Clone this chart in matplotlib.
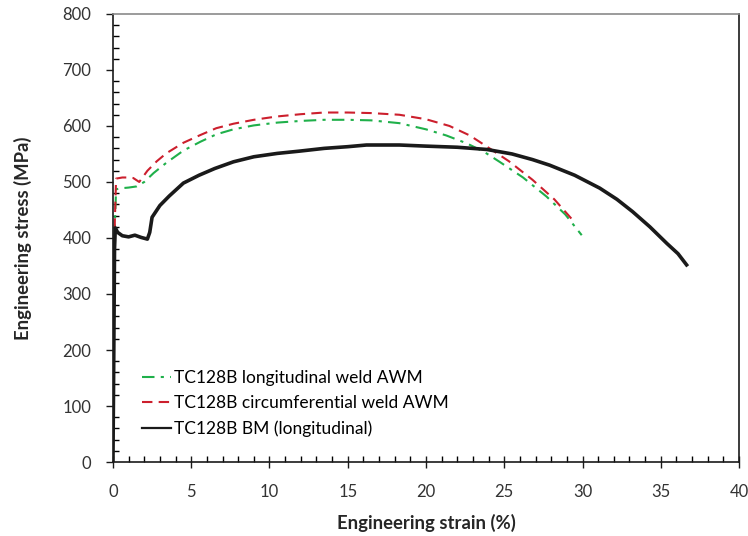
import numpy as np
import matplotlib.pyplot as plt
from matplotlib.ticker import MultipleLocator

# Data (strain %, stress MPa)
long_strain = [0.0, 0.05, 0.12, 0.2, 0.6, 1.0, 1.5, 2.0, 2.6, 3.4, 4.5, 5.6, 6.6, 7.7, 9.0,
               10.5, 12.0, 13.5, 15.0, 16.5, 18.3, 20.0, 21.3, 22.6, 23.7, 24.7, 26.2, 27.7,
               28.9, 29.95]
long_stress = [0, 200, 420, 487, 489, 490, 492, 500, 516, 534, 556, 572, 585, 594, 601,
               606, 609, 611, 611, 610, 605, 594, 583, 569, 554, 536, 508, 474, 442, 405]

circ_strain = [0.0, 0.05, 0.12, 0.2, 0.6, 1.0, 1.3, 1.68, 2.2, 2.8, 3.4, 4.5, 5.6, 6.6, 7.7,
               9.0, 10.5, 12.0, 13.5, 15.0, 16.5, 18.3, 20.0, 21.5, 22.8, 23.9, 25.3, 26.8,
               28.2, 29.5]
circ_stress = [0, 200, 430, 506, 508, 508, 507, 500, 520, 537, 551, 570, 584, 596, 604,
               611, 617, 621, 624, 624, 623, 620, 612, 600, 583, 563, 537, 504, 469, 428]

bm_strain = [0.0, 0.05, 0.1, 0.15, 0.3, 0.6, 1.0, 1.4, 1.8, 2.2, 2.35, 2.5, 3.0, 3.6, 4.5,
             5.5, 6.5, 7.7, 9.0, 10.5, 11.9, 13.5, 15.0, 16.2, 18.3, 20.0, 22.0, 23.9, 25.5,
             26.8, 27.9, 29.5, 31.1, 32.2, 33.2, 34.3, 35.4, 36.1, 36.65]
bm_stress = [0, 180, 380, 418, 410, 404, 402, 405, 401, 398, 410, 437, 458, 475, 498,
             512, 524, 536, 545, 551, 555, 560, 563, 566, 566, 564, 562, 558, 550,
             540, 530, 512, 489, 469, 447, 420, 390, 372, 352]

plt.rcParams['font.family'] = ['Lato', 'DejaVu Sans']

fig = plt.figure(figsize=(7.48, 5.36), dpi=100)
ax = fig.add_axes([0.151, 0.138, 0.837, 0.836])

ax.plot(long_strain, long_stress, color='#1fb04a', lw=1.5,
        dashes=(6, 3, 1.5, 3), label='TC128B longitudinal weld AWM')
ax.plot(circ_strain, circ_stress, color='#cc1f2d', lw=1.5,
        dashes=(5, 3), label='TC128B circumferential weld AWM')
ax.plot(bm_strain, bm_stress, color='#1a1a1a', lw=2.6,
        label='TC128B BM (longitudinal)')

ax.set_xlim(0, 40)
ax.set_ylim(0, 800)
ax.xaxis.set_major_locator(MultipleLocator(5))
ax.xaxis.set_minor_locator(MultipleLocator(1))
ax.yaxis.set_major_locator(MultipleLocator(100))
ax.yaxis.set_minor_locator(MultipleLocator(20))

ax.tick_params(axis='x', which='major', direction='inout', length=8, width=1,
               labelsize=12, pad=12, colors='#1a1a1a', labelcolor='#333333')
ax.tick_params(axis='x', which='minor', direction='in', length=4, width=1)
ax.tick_params(axis='y', which='major', direction='out', length=5, width=1,
               labelsize=12, pad=10.5, colors='#1a1a1a', labelcolor='#333333')
ax.tick_params(axis='y', which='minor', direction='in', length=4, width=1)

for side in ['left', 'bottom', 'right']:
    ax.spines[side].set_color('#1a1a1a')
    ax.spines[side].set_linewidth(1.2)
ax.spines['top'].set_color('#8a8a8a')
ax.spines['top'].set_linewidth(1.2)

ax.set_xlabel('Engineering strain (%)', fontsize=13.3, fontweight='bold', color='#262626')
ax.set_ylabel('Engineering stress (MPa)', fontsize=13.3, fontweight='bold', color='#262626')
ax.xaxis.set_label_coords(0.5, -0.115)
ax.yaxis.set_label_coords(-0.129, 0.5)

leg = ax.legend(loc='lower left', bbox_to_anchor=(0.022, 0.02), frameon=False,
                fontsize=12.5, handlelength=1.65, handletextpad=0.15, labelspacing=0.55)
leg.get_lines()[2].set_linewidth(1.6)

fig.savefig('out.png', dpi=100)
